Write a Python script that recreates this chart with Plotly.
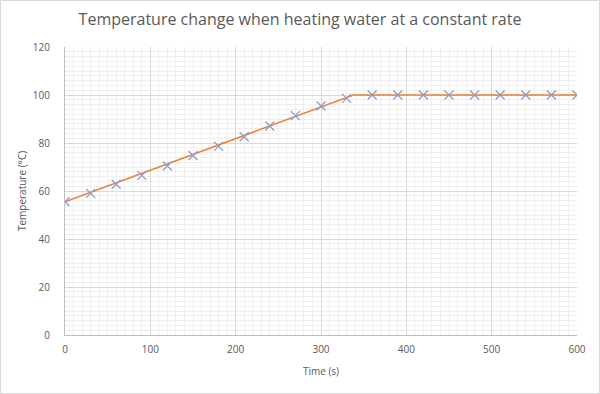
import plotly.graph_objects as go

# Measured data
time_s = [0, 30, 60, 90, 120, 150, 180, 210, 240, 270, 300, 330, 360, 390, 420, 450, 480, 510, 540, 570, 600]
temp_c = [55.5, 59, 62.8, 66.5, 70.4, 74.8, 78.6, 82.6, 87.1, 91.4, 95.4, 98.6, 100, 100, 100, 100, 100, 100, 100, 100, 100]

# Fitted line (drawn by hand)
fit_x = [0, 338, 600]
fit_y = [55.5, 100, 100]

x_ticks = [0, 100, 200, 300, 400, 500, 600]
y_ticks = [0, 20, 40, 60, 80, 100, 120]

title_text = "Temperature change when heating water at a constant rate"
x_title = "Time (s)"
y_title = "Temperature (°C)"

W, H = 600, 394
ml, mr, mt, mb = 65, 23, 47, 59
pw, ph = W - ml - mr, H - mt - mb

fig = go.Figure()
fig.add_trace(go.Scatter(
    x=fit_x, y=fit_y, mode="lines",
    line=dict(color="#ED7D31", width=1.5),
    hoverinfo="skip", showlegend=False,
))
fig.add_trace(go.Scatter(
    x=time_s, y=temp_c, mode="markers",
    marker=dict(symbol="x-thin", size=9, line=dict(color="#8E9BC9", width=1.3)),
    showlegend=False,
))

font_family = "Open Sans, Liberation Sans, sans-serif"
fig.update_layout(
    width=W, height=H,
    margin=dict(l=ml, r=mr, t=mt, b=mb),
    paper_bgcolor="white", plot_bgcolor="white",
    title=dict(text=title_text, x=0.5, xref="container", xanchor="center",
               y=1 - 19 / H, yanchor="middle", yref="container",
               font=dict(family=font_family, size=16, color="#595959")),
    font=dict(family=font_family, size=10, color="#595959"),
    xaxis=dict(
        range=[0, 600], tickmode="array", tickvals=x_ticks,
        ticktext=[str(v) for v in x_ticks],
        showgrid=True, gridcolor="#D9D9D9", gridwidth=1,
        minor=dict(dtick=10, showgrid=True, gridcolor="#EFEFEF", gridwidth=1),
        showline=True, linecolor="#BFBFBF", linewidth=1,
        ticks="", zeroline=False, automargin=False, ticklabelstandoff=5,
        title=dict(text=x_title, font=dict(size=10, color="#595959"), standoff=12),
        tickfont=dict(size=10, color="#595959"),
    ),
    yaxis=dict(
        range=[0, 120], tickmode="array", tickvals=y_ticks,
        ticktext=[str(v) for v in y_ticks],
        showgrid=True, gridcolor="#D9D9D9", gridwidth=1,
        minor=dict(dtick=2, showgrid=True, gridcolor="#EFEFEF", gridwidth=1),
        showline=True, linecolor="#BFBFBF", linewidth=1,
        ticks="", zeroline=False, ticklabelstandoff=12, automargin=False,
        title=dict(text=y_title, font=dict(size=10, color="#595959"), standoff=4),
        tickfont=dict(size=10, color="#595959"),
    ),
)

# light frame around the whole chart
fig.add_shape(type="rect", xref="paper", yref="paper",
              x0=-(ml - 0.5) / pw, x1=1 + (mr - 0.5) / pw,
              y0=-(mb - 0.5) / ph, y1=1 + (mt - 0.5) / ph,
              line=dict(color="#D9D9D9", width=1), layer="below")

fig.write_html("out.html", config={"displayModeBar": False},
               post_script="document.body.style.margin='0';")
